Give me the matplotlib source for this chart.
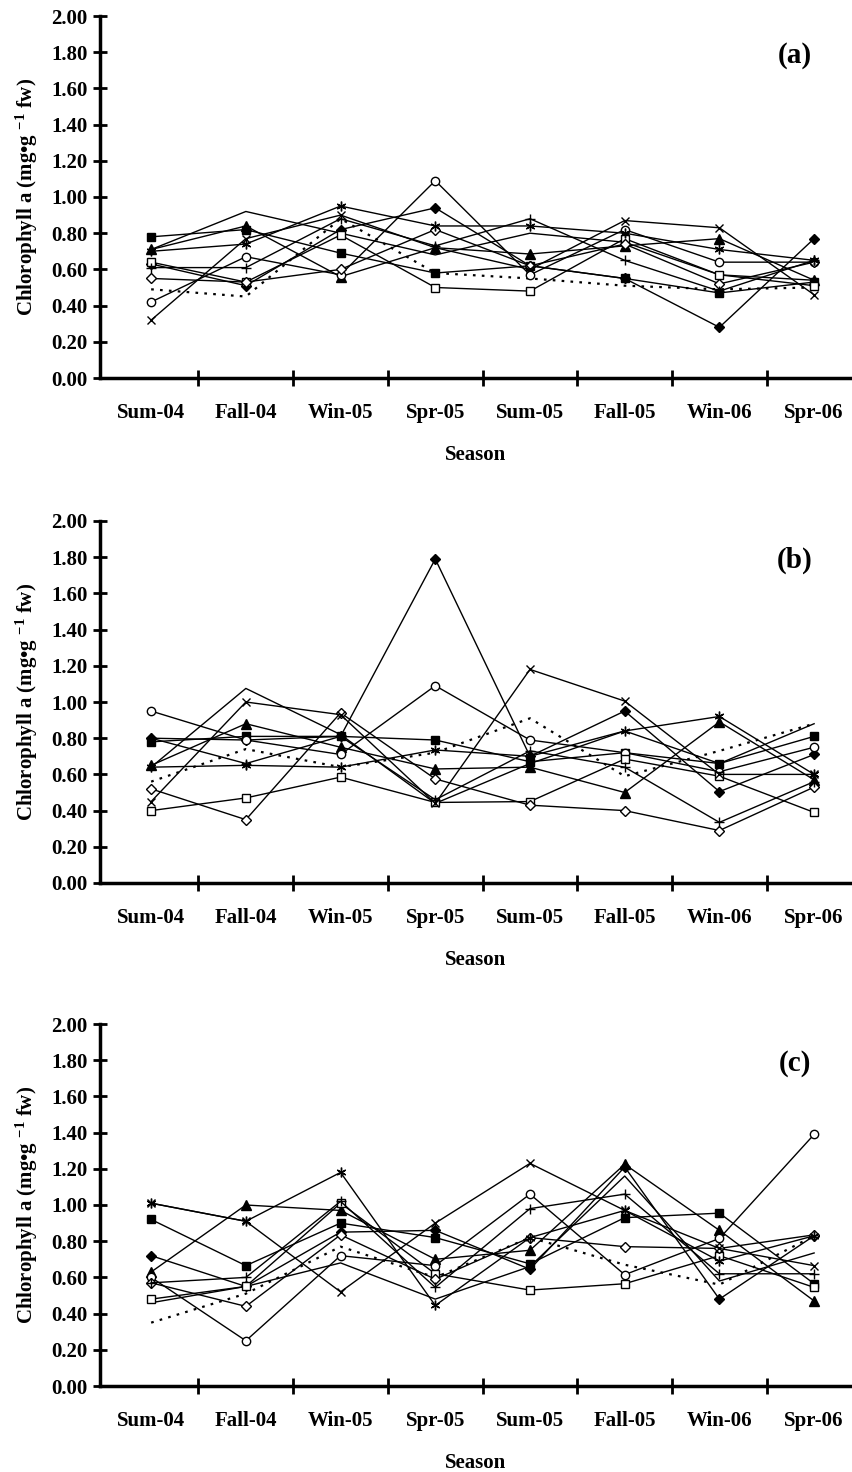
import matplotlib
matplotlib.use('Agg')
import matplotlib.pyplot as plt
import numpy as np

seasons = ['Sum-04', 'Fall-04', 'Win-05', 'Spr-05', 'Sum-05', 'Fall-05', 'Win-06', 'Spr-06']
panel_tags = ['(a)', '(b)', '(c)']

# одна строка на серию: значения для панелей (a), (b), (c)
sq_filled = [
    [0.78, 0.82, 0.69, 0.58, 0.62, 0.55, 0.47, 0.53],
    [0.78, 0.81, 0.81, 0.79, 0.67, 0.72, 0.66, 0.81],
    [0.92, 0.665, 0.90, 0.82, 0.675, 0.93, 0.955, 0.565],
]
tri_filled = [
    [0.71, 0.84, 0.56, 0.72, 0.685, 0.73, 0.77, 0.54],
    [0.65, 0.88, 0.75, 0.63, 0.64, 0.50, 0.89, 0.57],
    [0.63, 1.00, 0.97, 0.70, 0.75, 1.225, 0.86, 0.47],
]
dia_filled = [
    [0.63, 0.51, 0.82, 0.94, 0.62, 0.55, 0.28, 0.77],
    [0.80, 0.79, 0.81, 1.79, 0.70, 0.95, 0.505, 0.71],
    [0.72, 0.55, 0.85, 0.86, 0.645, 1.21, 0.48, 0.83],
]
circ_open = [
    [0.42, 0.67, 0.57, 1.09, 0.57, 0.82, 0.64, 0.64],
    [0.95, 0.79, 0.71, 1.09, 0.79, 0.72, 0.615, 0.75],
    [0.60, 0.25, 0.72, 0.665, 1.06, 0.615, 0.815, 1.39],
]
sq_open = [
    [0.64, 0.53, 0.79, 0.50, 0.48, 0.77, 0.57, 0.51],
    [0.40, 0.47, 0.585, 0.445, 0.45, 0.685, 0.59, 0.39],
    [0.48, 0.55, 1.01, 0.62, 0.53, 0.565, 0.72, 0.545],
]
dia_open = [
    [0.55, 0.53, 0.60, 0.82, 0.62, 0.74, 0.52, 0.64],
    [0.52, 0.35, 0.94, 0.575, 0.43, 0.40, 0.29, 0.53],
    [0.57, 0.44, 0.835, 0.59, 0.82, 0.77, 0.76, 0.835],
]
cross = [
    [0.32, 0.77, 0.90, 0.72, 0.60, 0.87, 0.83, 0.46],
    [0.45, 1.00, 0.93, 0.44, 1.18, 1.005, 0.60, 0.60],
    [1.01, 0.91, 0.52, 0.90, 1.23, 0.97, 0.76, 0.665],
]
star = [
    [0.70, 0.74, 0.95, 0.84, 0.84, 0.80, 0.71, 0.65],
    [0.64, 0.65, 0.64, 0.735, 0.70, 0.84, 0.92, 0.60],
    [1.01, 0.91, 1.18, 0.445, 0.82, 0.97, 0.69, 0.83],
]
plus = [
    [0.61, 0.61, 0.88, 0.73, 0.88, 0.65, 0.48, 0.65],
    [0.80, 0.66, 0.81, 0.46, 0.73, 0.64, 0.335, 0.56],
    [0.57, 0.60, 1.02, 0.545, 0.98, 1.06, 0.62, 0.62],
]
dotted = [
    [0.49, 0.45, 0.88, 0.58, 0.55, 0.51, 0.49, 0.50],
    [0.56, 0.74, 0.64, 0.72, 0.91, 0.59, 0.73, 0.88],
    [0.35, 0.51, 0.77, 0.60, 0.82, 0.67, 0.56, 0.83],
]
plain = [
    [0.71, 0.92, 0.80, 0.68, 0.80, 0.75, 0.57, 0.54],
    [0.64, 1.075, 0.82, 0.44, 0.66, 0.84, 0.66, 0.88],
    [0.46, 0.55, 0.68, 0.48, 0.66, 1.16, 0.58, 0.735],
]

plt.rcParams['font.family'] = ['Liberation Serif', 'DejaVu Serif']
plt.rcParams['font.weight'] = 'bold'
plt.rcParams['mathtext.fontset'] = 'custom'
plt.rcParams['mathtext.rm'] = 'Liberation Serif:bold'
plt.rcParams['mathtext.default'] = 'rm'

fig = plt.figure(figsize=(8.52, 14.72), dpi=100)
bottoms = [1 - 378 / 1472, 1 - 883 / 1472, 1 - 1386 / 1472]

x = np.arange(len(seasons))
fs = 15

for p in range(3):
    ax = fig.add_axes([100 / 852, bottoms[p], 752 / 852, 362 / 1472])
    kw = dict(color='black', lw=1.0)
    ax.plot(x, plain[p], **kw)
    ax.plot(x, dotted[p], color='black', lw=1.6, ls=(0, (1.2, 2.8)))
    ax.plot(x, sq_filled[p], marker='s', ms=5.5, mfc='black', mec='black', **kw)
    ax.plot(x, tri_filled[p], marker='^', ms=6.5, mfc='black', mec='black', **kw)
    ax.plot(x, dia_filled[p], marker='D', ms=5, mfc='black', mec='black', **kw)
    ax.plot(x, circ_open[p], marker='o', ms=6, mfc='white', mec='black', **kw)
    ax.plot(x, sq_open[p], marker='s', ms=6, mfc='white', mec='black', **kw)
    ax.plot(x, dia_open[p], marker='D', ms=5, mfc='white', mec='black', **kw)
    ax.plot(x, cross[p], marker='x', ms=6, mec='black', **kw)
    ax.plot(x, star[p], marker=(6, 2, 0), ms=7, mec='black', **kw)
    ax.plot(x, plus[p], marker='+', ms=7, mec='black', **kw)

    ax.set_xlim(-0.54, 7.40)
    ax.set_ylim(0, 2.0)
    yt = np.arange(0, 2.01, 0.2)
    ax.set_yticks(yt)
    ax.set_yticklabels(['%.2f' % v for v in yt], fontsize=fs, fontweight='bold')
    # тики между сезонами, подписи под сезонами
    ax.set_xticks(np.arange(0.5, 7, 1.0))
    ax.set_xticklabels([])
    ax.set_xticks(x, minor=True)
    ax.set_xticklabels(seasons, minor=True, fontsize=fs, fontweight='bold')
    ax.tick_params(axis='x', which='minor', length=0, pad=18)
    ax.tick_params(axis='x', which='major', direction='inout', length=12, width=2)
    ax.tick_params(axis='y', direction='inout', length=10, width=2, pad=4)

    for side in ['top', 'right']:
        ax.spines[side].set_visible(False)
    for side in ['left', 'bottom']:
        ax.spines[side].set_linewidth(2.5)

    ax.set_xlabel('Season', fontsize=fs, fontweight='bold', labelpad=16)
    ax.set_ylabel('Chlorophyll a (mg\u2022g $^{-1}$ fw)',
                  fontsize=fs, fontweight='bold', labelpad=8)
    ax.text(0.924, 0.892, panel_tags[p], transform=ax.transAxes,
            fontsize=21, fontweight='bold', ha='center', va='center')

fig.savefig('out.png', dpi=100)
